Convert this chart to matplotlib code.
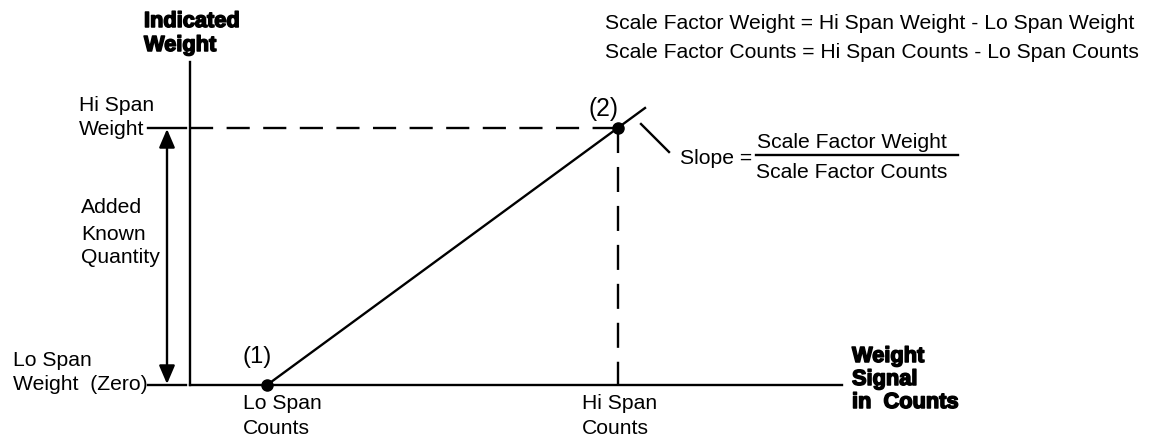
import matplotlib
matplotlib.use("Agg")
import matplotlib.pyplot as plt
import matplotlib.patheffects as pe

plt.rcParams["font.family"] = ["Liberation Sans", "DejaVu Sans"]

# diagram coordinates (pixel-like units, y grows downward)
axis_x = 190
axis_y = 385
axis_top = 62
axis_right = 842

lo_point = (267, 385)   # (1) lo span counts / lo span weight
hi_point = (618, 128)   # (2) hi span counts / hi span weight
line_end = (645, 108)

tick_left = 148
arrow_x = 167

formula_lines = [
    "Scale Factor Weight = Hi Span Weight - Lo Span Weight",
    "Scale Factor Counts = Hi Span Counts - Lo Span Counts",
]
y_title = ["Indicated", "Weight"]
x_title = ["Weight", "Signal", "in  Counts"]

fig = plt.figure(figsize=(11.52, 4.41), dpi=100)
ax = fig.add_axes([0, 0, 1, 1])
ax.set_xlim(0, 1152)
ax.set_ylim(441, 0)
ax.axis("off")

lw = 1.7
fs = 15.2
bold = dict(fontsize=15.7, fontweight="bold", va="baseline", ha="left",
            path_effects=[pe.withStroke(linewidth=1.1, foreground="black")])

# axes
ax.plot([axis_x, axis_x], [axis_top, axis_y], color="black", lw=lw)
ax.plot([axis_x, axis_right], [axis_y, axis_y], color="black", lw=lw)

# tick stubs
ax.plot([tick_left, 186], [hi_point[1], hi_point[1]], color="black", lw=lw)
ax.plot([tick_left, 186], [axis_y, axis_y], color="black", lw=lw)

# dashed guides
ax.plot([axis_x, hi_point[0]], [hi_point[1], hi_point[1]], color="black", lw=lw, linestyle=(0, (9.8, 5.7)))
ax.plot([hi_point[0], hi_point[0]], [hi_point[1], axis_y], color="black", lw=lw, linestyle=(0, (10.6, 5.9)))

# calibration line
ax.plot([lo_point[0], line_end[0]], [lo_point[1], line_end[1]], color="black", lw=lw)
ax.plot([lo_point[0], hi_point[0]], [lo_point[1], hi_point[1]], "o", color="black", ms=8)

# slope leader
ax.plot([641, 669], [124, 152], color="black", lw=lw)

# added known quantity arrow
ax.annotate("", xy=(arrow_x, hi_point[1] + 1), xytext=(arrow_x, axis_y - 1),
            arrowprops=dict(arrowstyle="<|-|>,head_length=0.7,head_width=0.3", color="black", lw=lw,
                            mutation_scale=16, shrinkA=0, shrinkB=0))

# bold axis titles
for i, s in enumerate(y_title):
    ax.text(144, 27 + 24 * i, s, **bold)
for i, s in enumerate(x_title):
    ax.text(852, 362 + 23 * i, s, **bold)

# left labels
ax.text(79, 111, "Hi Span", fontsize=fs, va="baseline")
ax.text(79, 135, "Weight", fontsize=fs, va="baseline")
ax.text(81, 213, "Added", fontsize=fs, va="baseline")
ax.text(81, 240, "Known", fontsize=fs, va="baseline")
ax.text(81, 263, "Quantity", fontsize=fs, va="baseline")
ax.text(13, 366, "Lo Span", fontsize=fs, va="baseline")
ax.text(13, 390, "Weight  (Zero)", fontsize=fs, va="baseline")

# bottom labels
ax.text(243, 409, "Lo Span", fontsize=fs, va="baseline")
ax.text(243, 434, "Counts", fontsize=fs, va="baseline")
ax.text(582, 409, "Hi Span", fontsize=fs, va="baseline")
ax.text(582, 434, "Counts", fontsize=fs, va="baseline")

# point labels
ax.text(257, 363, "(1)", fontsize=fs + 2, va="baseline", ha="center")
ax.text(603, 116, "(2)", fontsize=fs + 2.5, va="baseline", ha="center")

# slope formula
ax.text(680, 164, "Slope =", fontsize=fs, va="baseline")
ax.text(852, 148, "Scale Factor Weight", fontsize=fs, va="baseline", ha="center")
ax.text(852, 178, "Scale Factor Counts", fontsize=fs, va="baseline", ha="center")
ax.plot([756, 958], [155, 155], color="black", lw=lw)

# formulas top right
for i, s in enumerate(formula_lines):
    ax.text(605, 29 + 29 * i, s, fontsize=fs, va="baseline", ha="left")

fig.savefig("out.png", dpi=100)
